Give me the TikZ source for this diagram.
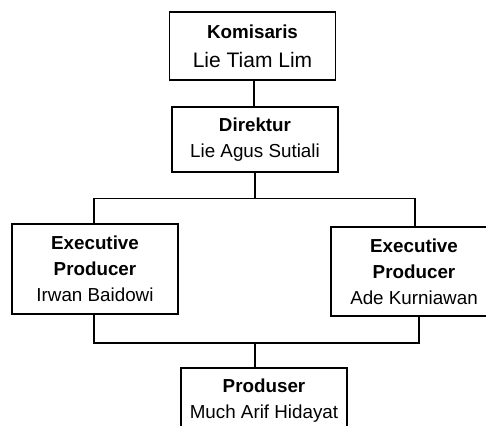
\documentclass[tikz,border=0pt]{standalone}
\usepackage{fontspec}
\setmainfont{Liberation Sans}
\usetikzlibrary{calc}

\tikzset{jabatan/.style={draw, black, line width=1.8pt, minimum width=166pt, align=center,
  inner sep=0pt, font=\fontsize{18.8}{26}\selectfont}}

\begin{document}
\begin{tikzpicture}[x=1pt,y=-1pt]
\useasboundingbox (0,0) rectangle (486,425);
\clip (0,0) rectangle (486,425);
\node[jabatan, minimum height=68pt, font=\fontsize{18.8}{29}\selectfont] (kom) at (252.5,46) {\textbf{Komisaris}\\{\fontsize{21}{29}\selectfont Lie Tiam Lim}};
\node[jabatan, minimum height=65pt] (dir) at (255,139.5) {\textbf{Direktur}\\Lie Agus Sutiali};
\node[jabatan, minimum height=90pt] (exL) at (95,269) {\textbf{Executive}\\\textbf{Producer}\\Irwan Baidowi};
\node[jabatan, minimum height=89pt] (exR) at (414,271.5) {\textbf{Executive}\\\textbf{Producer}\\Ade Kurniawan};
\node[jabatan, minimum height=65pt] (prod) at (264,400.5) {\textbf{Produser}\\Much Arif Hidayat};
\coordinate (split) at (255,198.5);
\coordinate (join) at (255,343);
\draw[line width=1.8pt] (kom.south -| 254,0) -- (dir.north -| 254,0);
\draw[line width=1.8pt] (dir.south) -- (split);
\draw[line width=1.8pt] (exL.north -| 94,0) |- (split) -| (exR.north -| 415,0);
\draw[line width=1.8pt] (exL.south -| 94,0) |- (join) -| (exR.south -| 419,0);
\draw[line width=1.8pt] (join) -- (prod.north -| join);
\end{tikzpicture}
\end{document}
